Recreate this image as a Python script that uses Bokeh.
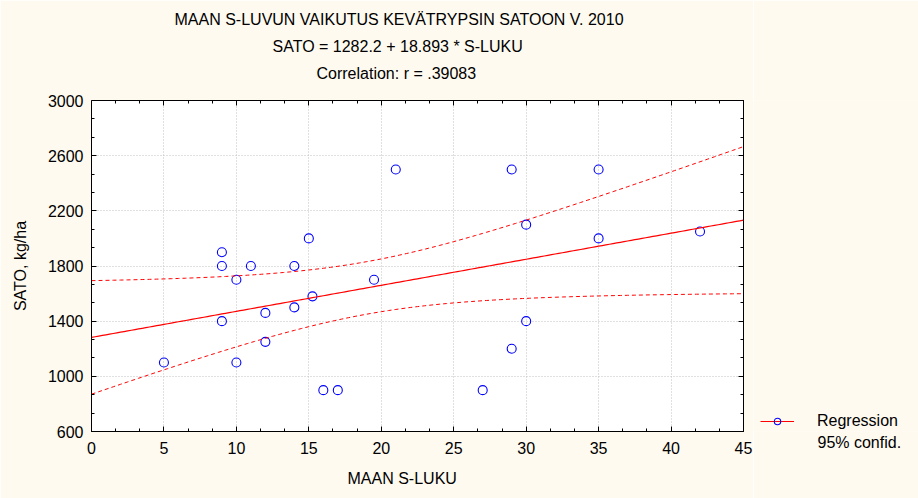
import math
import numpy as np
from bokeh.plotting import figure
from bokeh.layouts import row
from bokeh.models import (LinearAxis, Range1d, Legend, LegendItem, FixedTicker, Title)
from bokeh.embed import file_html
from bokeh.resources import INLINE

# ---- data ----
s_luku = [5, 9, 9, 9, 10, 10, 11, 12, 12, 14, 14, 15, 15.25, 16, 17, 19.5, 21,
          27, 29, 29, 30, 30, 35, 35, 42]
sato = [1100, 1900, 1800, 1400, 1700, 1100, 1800, 1460, 1250, 1800, 1500, 2000,
        1580, 900, 900, 1700, 2500, 900, 2500, 1200, 2100, 1400, 2500, 2000, 2050]

intercept = 1282.2
slope = 18.893
t_975_df23 = 2.0687

x_ticks = [0, 5, 10, 15, 20, 25, 30, 35, 40, 45]
y_ticks = [600, 1000, 1400, 1800, 2200, 2600, 3000]

title_lines = ["MAAN S-LUVUN VAIKUTUS KEVÄTRYPSIN SATOON V. 2010",
               "SATO = 1282.2 + 18.893 * S-LUKU",
               "Correlation: r = .39083"]
x_label = "MAAN S-LUKU"
y_label = "SATO, kg/ha"
legend_labels = ["Regression", "95% confid."]

FONT = "Liberation Sans"
BG = "#FFFAF0"
RED = "#FF0000"
BLUE = "#0000FF"

# ---- regression and 95% confidence band ----
xa = np.array(s_luku, dtype=float)
ya = np.array(sato, dtype=float)
n = len(xa)
xm = xa.mean()
sxx = ((xa - xm) ** 2).sum()
resid = ya - (intercept + slope * xa)
s = math.sqrt((resid ** 2).sum() / (n - 2))
xl = np.linspace(0, 45, 181)
yl = intercept + slope * xl
hw = t_975_df23 * s * np.sqrt(1.0 / n + (xl - xm) ** 2 / sxx)

W_MAIN = 753
W_LEG = 918 - W_MAIN

p = figure(width=W_MAIN, height=498, x_range=Range1d(0, 45), y_range=Range1d(600, 3000),
           output_backend="svg", toolbar_location=None,
           min_border_left=91, min_border_right=10, min_border_top=100,
           min_border_bottom=66)
p.background_fill_color = "white"
p.border_fill_color = BG
p.outline_line_color = "black"

def minors(ticks, k=3):
    out = []
    for a, b in zip(ticks[:-1], ticks[1:]):
        for i in range(1, k):
            out.append(a + (b - a) * i / k)
    return out

xt = FixedTicker(ticks=x_ticks, minor_ticks=minors(x_ticks))
yt = FixedTicker(ticks=y_ticks, minor_ticks=minors(y_ticks))

def style_axis(ax, labels=True):
    ax.axis_line_color = "black"
    ax.major_tick_line_color = "black"
    ax.minor_tick_line_color = "black"
    ax.major_tick_in = 5
    ax.major_tick_out = 0
    ax.minor_tick_in = 3
    ax.minor_tick_out = 0
    ax.major_label_text_font = FONT
    ax.major_label_text_font_size = "16px"
    ax.major_label_text_color = "black" if labels else None

p.xaxis.ticker = xt
p.yaxis.ticker = yt
style_axis(p.xaxis[0])
style_axis(p.yaxis[0])
p.xaxis.major_label_standoff = 10
p.yaxis.major_label_standoff = 8
p.yaxis.axis_label = y_label
p.yaxis.axis_label_standoff = 16
p.yaxis.axis_label_text_font = FONT
p.yaxis.axis_label_text_font_size = "16px"
p.yaxis.axis_label_text_font_style = "normal"
p.yaxis.axis_label_text_color = "black"

top = LinearAxis(ticker=FixedTicker(ticks=x_ticks, minor_ticks=minors(x_ticks)))
style_axis(top, labels=False)
top.major_label_text_font_size = "1px"
top.major_label_standoff = 0
p.add_layout(top, "above")

# spacer between the frame and the title lines (ticks drawn in background colour)
spacer = LinearAxis(ticker=FixedTicker(ticks=[x_ticks[0]], minor_ticks=[]))
spacer.axis_line_color = None
spacer.major_tick_line_color = BG
spacer.minor_tick_line_color = None
spacer.major_label_text_color = None
spacer.major_tick_in = 0
spacer.major_tick_out = 15
spacer.minor_tick_in = 0
spacer.minor_tick_out = 0
spacer.major_label_standoff = 0
p.add_layout(spacer, "above")

right = LinearAxis(ticker=FixedTicker(ticks=y_ticks, minor_ticks=minors(y_ticks)))
style_axis(right, labels=False)
right.major_label_text_font_size = "1px"
right.major_label_standoff = 0
p.add_layout(right, "right")

for g in (p.xgrid[0], p.ygrid[0]):
    g.grid_line_color = "#C0C0C0"
    g.grid_line_dash = "1 2"
p.xgrid.ticker = xt
p.ygrid.ticker = yt

p.scatter(s_luku, sato, marker="circle", size=9, fill_color=None,
          line_color=BLUE, line_width=1.1)
p.line(xl, yl, line_color=RED, line_width=1.2)
p.line(xl, yl + hw, line_color=RED, line_width=1, line_dash="4 3")
p.line(xl, yl - hw, line_color=RED, line_width=1, line_dash="4 3")

# titles: added nearest-first
offsets = [83, 181, 225]
for txt, off in reversed(list(zip(title_lines, offsets))):
    p.add_layout(Title(text=txt, align="left", offset=off, text_font=FONT,
                       text_font_size="16px", text_font_style="normal",
                       text_color="black", standoff=8), "above")
p.add_layout(Title(text=x_label, align="left", offset=256, text_font=FONT,
                   text_font_size="16px", text_font_style="normal",
                   text_color="black", standoff=23), "below")

# ---- legend panel to the right ----
q = figure(width=W_LEG, height=498, x_range=Range1d(0, 1), y_range=Range1d(0, 1),
           x_axis_type=None, y_axis_type=None,
           output_backend="svg", toolbar_location=None,
           min_border=0, min_border_left=0, min_border_right=0,
           min_border_top=0, min_border_bottom=0)
q.grid.visible = False
q.outline_line_color = None
q.background_fill_color = BG
q.border_fill_color = BG
# legend-only renderers, kept outside the visible range
lr = q.line([-5, -4], [-5, -4], line_color=RED, line_width=1)
sr = q.scatter([-5], [-5], marker="circle", size=9, fill_color=None,
               line_color=BLUE, line_width=1.1)
legend = Legend(items=[LegendItem(label=legend_labels[0], renderers=[lr, sr])],
                location=(7, 1), padding=0, margin=0,
                border_line_color=None, background_fill_alpha=0,
                glyph_width=34, glyph_height=16, label_standoff=23, spacing=2,
                label_height=16, label_text_font=FONT, label_text_font_size="16px",
                label_text_color="black")
q.add_layout(legend)
q.add_layout(Title(text=legend_labels[1], align="left", offset=64, text_font=FONT,
                   text_font_size="16px", text_font_style="normal",
                   text_color="black", standoff=0), "below")

layout = row(p, q, spacing=0)
open("out.html", "w").write(file_html(layout, INLINE))
